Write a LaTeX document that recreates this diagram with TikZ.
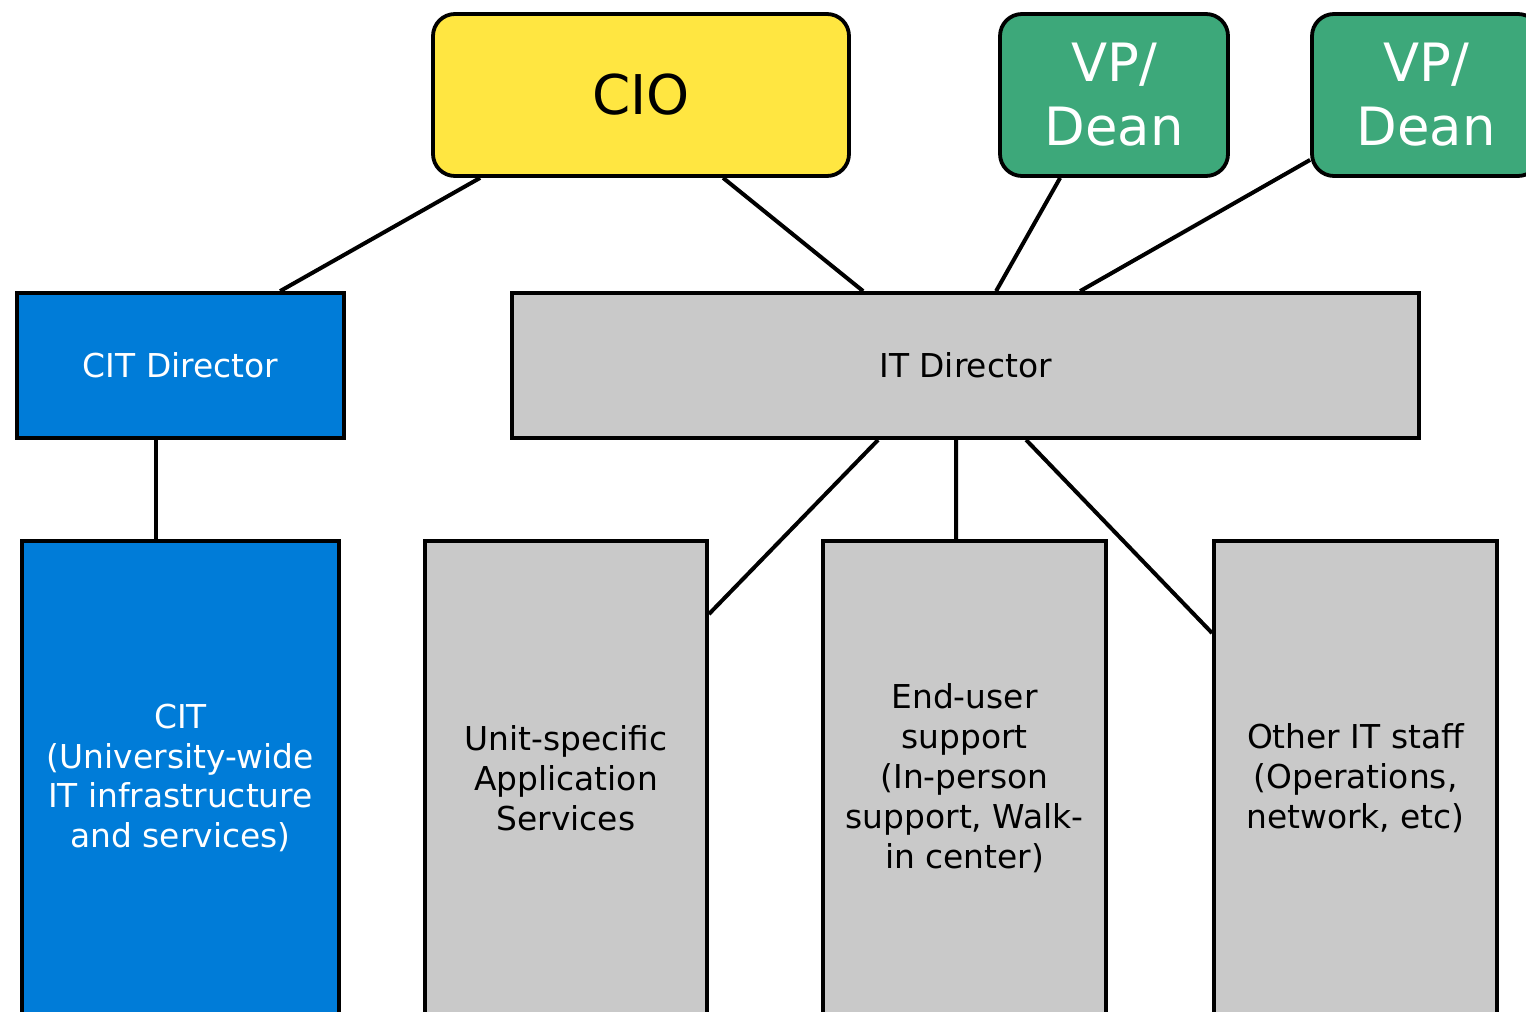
\documentclass[tikz,border=0pt]{standalone}
\usepackage{fontspec}
\setmainfont{DejaVu Sans}
\definecolor{cioyellow}{RGB}{255,230,65}
\definecolor{vpgreen}{RGB}{61,168,122}
\definecolor{citblue}{RGB}{0,124,216}
\definecolor{unitgray}{RGB}{201,201,201}
\tikzset{
  box/.style={draw=black, line width=3.8bp, rectangle, inner sep=0pt, align=center},
  topbox/.style={box, rounded corners=22bp, minimum height=162bp,
    font=\fontsize{53}{64}\selectfont},
  midbox/.style={box, minimum height=145bp, font=\fontsize{33}{40}\selectfont},
  lowbox/.style={box, minimum height=474bp, font=\fontsize{33}{40}\selectfont},
  link/.style={line width=4bp, black}
}
\begin{document}
\begin{tikzpicture}[x=1bp, y=-1bp]
  \useasboundingbox (0,0) rectangle (1526,1011);
  \clip (0,0) rectangle (1526,1011);
  \fill[white] (0,0) rectangle (1526,1011);

  % top level
  \node[topbox, fill=cioyellow, minimum width=416bp, font=\fontsize{55}{64}\selectfont] (cio) at (641,95) {CIO};
  \node[topbox, fill=vpgreen, text=white, minimum width=228bp] (vpa) at (1114,95) {VP/\\Dean};
  \node[topbox, fill=vpgreen, text=white, minimum width=228bp] (vpb) at (1426,95) {VP/\\Dean};

  % directors
  \node[midbox, fill=citblue, text=white, minimum width=327bp] (citdir) at (180.5,365.5) {CIT Director};
  \node[midbox, fill=unitgray, minimum width=907bp] (itdir) at (965.5,365.5) {IT Director};

  % units
  \node[lowbox, fill=citblue, text=white, minimum width=317bp] (cit) at (180.5,778)
    {CIT\\(University-wide\\IT infrastructure\\and services)};
  \node[lowbox, fill=unitgray, minimum width=282bp] (unit) at (566,778)
    {Unit-specific\\Application\\Services};
  \node[lowbox, fill=unitgray, minimum width=283bp] (enduser) at (964.5,778)
    {End-user\\support\\(In-person\\support, Walk-\\in center)};
  \node[lowbox, fill=unitgray, minimum width=283bp] (other) at (1355.5,778)
    {Other IT staff\\(Operations,\\network, etc)};

  % reporting lines
  \draw[link] ([xshift=49bp]cio.south west) -- ([xshift=265bp]citdir.north west);
  \draw[link] ([xshift=292bp]cio.south west) -- ([xshift=353bp]itdir.north west);
  \draw[link] ([xshift=62bp]vpa.south west) -- ([xshift=486bp]itdir.north west);
  \draw[link] ([yshift=18bp]vpb.south west) -- ([xshift=570bp]itdir.north west);
  \draw[link] ([xshift=141bp]citdir.south west) -- ([xshift=136bp]cit.north west);
  \draw[link] ([xshift=368bp]itdir.south west) -- ([yshift=-75bp]unit.north east);
  \draw[link] ([xshift=446bp]itdir.south west) -- ([xshift=135bp]enduser.north west);
  \draw[link] ([xshift=516bp]itdir.south west) -- ([yshift=-94bp]other.north west);
\end{tikzpicture}
\end{document}
